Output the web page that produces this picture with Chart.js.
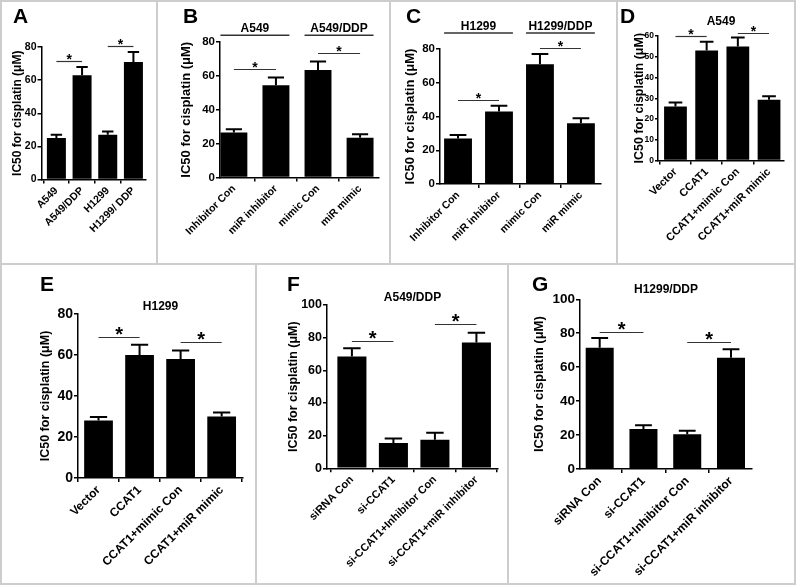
<!DOCTYPE html>
<html>
<head>
<meta charset="utf-8">
<script src="https://cdn.jsdelivr.net/npm/chart.js@4.4.1/dist/chart.umd.min.js"></script>
<style>
  body { margin: 0; background: #fff; }
  #fig { position: relative; width: 796px; height: 585px; overflow: hidden; background: #fff; }
  #fig canvas { position: absolute; }
  .ln { position: absolute; background: #cdcdcd; z-index: 2; }
</style>
</head>
<body>
<div id="fig">
  <div class="ln" style="left:0;top:0;width:796px;height:2px"></div>
  <div class="ln" style="left:0;top:583px;width:796px;height:2px"></div>
  <div class="ln" style="left:0;top:0;width:2px;height:585px"></div>
  <div class="ln" style="left:794px;top:0;width:2px;height:585px"></div>
  <div class="ln" style="left:0;top:263px;width:796px;height:2px"></div>
  <div class="ln" style="left:156px;top:0;width:2px;height:264px"></div>
  <div class="ln" style="left:389px;top:0;width:2px;height:264px"></div>
  <div class="ln" style="left:616px;top:0;width:2px;height:264px"></div>
  <div class="ln" style="left:255px;top:264px;width:2px;height:321px"></div>
  <div class="ln" style="left:507px;top:264px;width:2px;height:321px"></div>
</div>
<script>
// --- valores (IC50 em uM, media e erro) ---
const catsA = ['A549', 'A549/DDP', 'H1299', 'H1299/ DDP'];
const ic50A = [25, 63, 27, 71];
const semA = [2, 5, 2, 6];
const sigA = [[0, 1, 71.5], [2, 3, 80.5]];

const catsB = ['Inhibitor Con', 'miR inhibitor', 'mimic Con', 'miR mimic'];
const ic50B = [26.5, 54.5, 63.5, 23.5];
const semB = [2, 4.5, 5, 2];
const sigB = [[0, 1, 64], [2, 3, 73.3]];
const groupsB = [['A549', 0, 1, 84], ['A549/DDP', 2, 3, 84]];

const catsC = ['Inhibitor Con', 'miR inhibitor', 'mimic Con', 'miR mimic'];
const ic50C = [27, 43, 71, 36];
const semC = [2, 3.3, 6, 3];
const sigC = [[0, 1, 49.5], [2, 3, 80.6]];
const groupsC = [['H1299', 0, 1, 89.5], ['H1299/DDP', 2, 3, 89.5]];

const catsD = ['Vector', 'CCAT1', 'CCAT1+mimic Con', 'CCAT1+miR mimic'];
const ic50D = [26, 53, 55, 29.3];
const semD = [2, 4.2, 4.3, 1.7];
const sigD = [[0, 1, 59.8], [2, 3, 61.6]];

const catsE = ['Vector', 'CCAT1', 'CCAT1+mimic Con', 'CCAT1+miR mimic'];
const ic50E = [28, 60, 58, 30];
const semE = [1.8, 5, 4.2, 2];
const sigE = [[0, 1, 68.9], [2, 3, 66.3]];

const catsF = ['siRNA Con', 'si-CCAT1', 'si-CCAT1+Inhibitor Con', 'si-CCAT1+miR inhibitor'];
const ic50F = [68.5, 15.5, 17.5, 77];
const semF = [5, 2.7, 4.3, 6];
const sigF = [[0, 1, 78], [2, 3, 88.4]];

const catsG = ['siRNA Con', 'si-CCAT1', 'si-CCAT1+Inhibitor Con', 'si-CCAT1+miR inhibitor'];
const ic50G = [71.5, 23.5, 20.5, 65.5];
const semG = [5.7, 2.3, 2, 5];
const sigG = [[0, 1, 80.9], [2, 3, 75]];

const yTicks80 = [0, 20, 40, 60, 80];
const yTicks60 = [0, 10, 20, 30, 40, 50, 60];
const yTicks100 = [0, 20, 40, 60, 80, 100];

const FAM = '"Liberation Sans", Arial, sans-serif';
Chart.defaults.font.family = FAM;
Chart.defaults.font.weight = 'bold';
Chart.defaults.color = '#000';

// layout de cada painel (coordenadas da pagina)
const panels = [
  { letter: 'A', at: [13, 23], box: [0, 0, 157, 264], plot: [41.5, 47, 146, 179.5], xr: [-0.58, 3.49], bar: 0.74,
    cats: catsA, vals: ic50A, sem: semA, sig: sigA, ticks: yTicks80, f: { t: 12, k: 10.5, x: 10.5, s: 14 }, yt: 18 },
  { letter: 'B', at: [183, 23], box: [157, 0, 233, 264], plot: [220, 42, 379, 177.5], xr: [-0.33, 3.45], bar: 0.64,
    cats: catsB, vals: ic50B, sem: semB, sig: sigB, groups: groupsB, ticks: yTicks80, f: { t: 13, k: 11.5, x: 10.5, s: 14 }, yt: 186 },
  { letter: 'C', at: [406, 23], box: [390, 0, 227, 264], plot: [440, 49, 601, 184], xr: [-0.44, 3.49], bar: 0.68,
    cats: catsC, vals: ic50C, sem: semC, sig: sigC, groups: groupsC, ticks: yTicks80, f: { t: 13, k: 11.5, x: 10.5, s: 14 }, yt: 410 },
  { letter: 'D', at: [620, 23], box: [617, 0, 179, 264], plot: [658, 36, 784, 160.5], xr: [-0.56, 3.48], bar: 0.73,
    cats: catsD, vals: ic50D, sem: semD, sig: sigD, ticks: yTicks60, f: { t: 12.5, k: 8.5, x: 11, s: 14 }, yt: 639.5,
    title: 'A549', titleY: 22 },
  { letter: 'E', at: [40, 291], box: [0, 264, 256, 321], plot: [78, 314, 243, 478], xr: [-0.5, 3.52], bar: 0.7,
    cats: catsE, vals: ic50E, sem: semE, sig: sigE, ticks: yTicks80, f: { t: 12.5, k: 14, x: 12, s: 20 }, yt: 46,
    title: 'H1299', titleY: 306.7 },
  { letter: 'F', at: [287, 291], box: [256, 264, 252, 321], plot: [327, 305, 498, 468.3], xr: [-0.6, 3.52], bar: 0.7,
    cats: catsF, vals: ic50F, sem: semF, sig: sigF, ticks: yTicks100, f: { t: 12.5, k: 12.5, x: 11, s: 20 }, yt: 294,
    title: 'A549/DDP', titleY: 297.5 },
  { letter: 'G', at: [532, 290.5], box: [508, 264, 288, 321], plot: [580, 299.3, 752, 469], xr: [-0.45, 3.48], bar: 0.64,
    cats: catsG, vals: ic50G, sem: semG, sig: sigG, ticks: yTicks100, f: { t: 13, k: 13.5, x: 12, s: 20 }, yt: 539,
    title: 'H1299/DDP', titleY: 290 }
];

// barras de erro, asteriscos, grupos, titulo e letra do painel
function anotar(p) {
  return {
    id: 'anot' + p.letter,
    afterDraw(chart) {
      const { ctx, chartArea } = chart;
      const ys = chart.scales.y;
      const bars = chart.getDatasetMeta(0).data;
      const ox = p.box[0], oy = p.box[1];
      ctx.save();
      ctx.fillStyle = '#000';
      ctx.strokeStyle = '#000';
      ctx.lineWidth = 2;
      p.sem.forEach((e, i) => {
        const b = bars[i];
        const t = ys.getPixelForValue(p.vals[i] + e);
        const c = b.width * 0.3;
        ctx.beginPath();
        ctx.moveTo(b.x, b.y);
        ctx.lineTo(b.x, t);
        ctx.moveTo(b.x - c, t);
        ctx.lineTo(b.x + c, t);
        ctx.stroke();
      });

      ctx.textAlign = 'center';
      ctx.lineWidth = 1.2;
      ctx.strokeStyle = '#333';
      ctx.font = `bold ${p.f.s}px ${FAM}`;
      p.sig.forEach(([i, j, lvl]) => {
        const y = Math.round(ys.getPixelForValue(lvl)) + 0.5;
        ctx.beginPath();
        ctx.moveTo(bars[i].x, y);
        ctx.lineTo(bars[j].x, y);
        ctx.stroke();
        ctx.fillText('*', (bars[i].x + bars[j].x) / 2, y + p.f.s * 0.16);
      });

      if (p.groups) {
        ctx.lineWidth = 1.6;
        ctx.font = `bold 12px ${FAM}`;
        p.groups.forEach(([txt, i, j, lvl]) => {
          const y = ys.getPixelForValue(lvl);
          const x0 = bars[i].x - bars[i].width / 2, x1 = bars[j].x + bars[j].width / 2;
          ctx.beginPath();
          ctx.moveTo(x0, y);
          ctx.lineTo(x1, y);
          ctx.stroke();
          ctx.fillText(txt, (x0 + x1) / 2, y - 3);
        });
      }

      if (p.title) {
        ctx.font = `bold 12px ${FAM}`;
        ctx.textBaseline = 'middle';
        ctx.fillText(p.title, (chartArea.left + chartArea.right) / 2, p.titleY - oy);
      }

      ctx.font = `bold 21px ${FAM}`;
      ctx.textAlign = 'left';
      ctx.textBaseline = 'alphabetic';
      ctx.fillText(p.letter, p.at[0] - ox, p.at[1] - oy);
      ctx.restore();
    }
  };
}

const fig = document.getElementById('fig');

panels.forEach(p => {
  const [bx, by, bw, bh] = p.box;
  const cv = document.createElement('canvas');
  cv.width = bw;
  cv.height = bh;
  cv.style.left = bx + 'px';
  cv.style.top = by + 'px';
  fig.appendChild(cv);

  const yAxisW = p.plot[0] - bx;
  const padTop = p.plot[1] - by;
  const padRight = bx + bw - p.plot[2];
  const xAxisH = by + bh - p.plot[3];
  const lh = p.f.t * 1.2;
  const yMax = p.ticks[p.ticks.length - 1];

  new Chart(cv, {
    type: 'bar',
    data: {
      datasets: [{
        data: p.vals.map((v, i) => ({ x: i, y: v })),
        backgroundColor: '#000',
        borderWidth: 0,
        barPercentage: p.bar,
        categoryPercentage: 1
      }]
    },
    options: {
      responsive: false,
      animation: false,
      layout: { padding: { left: 0, top: padTop, right: padRight, bottom: 0 } },
      plugins: { legend: { display: false }, tooltip: { enabled: false } },
      scales: {
        x: {
          type: 'linear',
          min: p.xr[0],
          max: p.xr[1],
          offset: false,
          afterBuildTicks: s => { s.ticks = p.cats.map((_, i) => ({ value: i })); },
          afterFit: s => { s.height = xAxisH; s.paddingLeft = 0; s.paddingRight = 0; },
          grid: { drawOnChartArea: false, drawTicks: true, tickLength: 4, color: '#000', lineWidth: 1.5 },
          border: { display: true, color: '#000', width: 1.5 },
          ticks: {
            autoSkip: false, minRotation: 45, maxRotation: 45, padding: 1,
            font: { size: p.f.x },
            callback: v => p.cats[v]
          }
        },
        y: {
          min: 0,
          max: yMax,
          afterBuildTicks: s => { s.ticks = p.ticks.map(v => ({ value: v })); },
          afterFit: s => { s.width = yAxisW; s.paddingTop = 0; s.paddingBottom = 0; },
          grid: { drawOnChartArea: false, drawTicks: true, tickLength: p.letter === 'D' ? 3 : 4, color: '#000', lineWidth: 1.5 },
          border: { display: true, color: '#000', width: 1.5 },
          ticks: { padding: 1, font: { size: p.f.k } },
          title: {
            display: true,
            text: 'IC50 for cisplatin (\u03bcM)',
            font: { size: p.f.t },
            padding: { top: p.yt - bx - lh / 2, bottom: 0 }
          }
        }
      }
    },
    plugins: [anotar(p)]
  });
});
</script>
</body>
</html>
